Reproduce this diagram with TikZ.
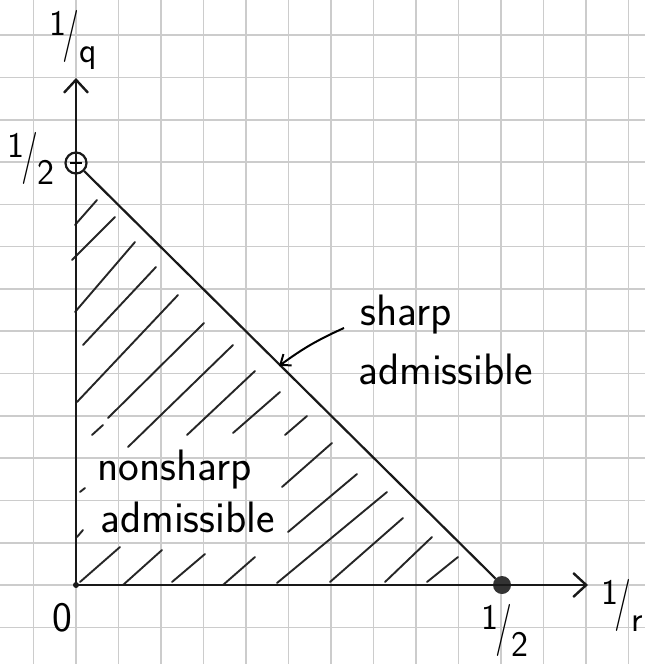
\documentclass[tikz,border=0pt]{standalone}
\usetikzlibrary{arrows.meta}
\newcommand\hfr[2]{\raisebox{0.38em}{#1}\kern-0.1em\scalebox{1}[1.45]{/}\kern-0.02em\raisebox{-0.36em}{#2}}
\begin{document}
\begin{tikzpicture}[x=1pt,y=-1pt,
  gridline/.style={draw=black!20,line width=1.6pt},
  axisline/.style={line width=2.6pt,draw=black!90},
  hatch/.style={line width=1.9pt,draw=black!85,line cap=round},
  lbl/.style={font=\fontsize{44}{48}\selectfont\sffamily,inner sep=0pt},
  frac/.style={font=\fontsize{36}{40}\selectfont\sffamily,inner sep=0pt},
  barb/.style={-{Straight Barb[length=13pt,width=24pt,line width=2.4pt]}},
  smallbarb/.style={-{Straight Barb[length=9pt,width=14pt,line width=2pt]}}
]
\useasboundingbox (0,0) rectangle (645,664);
\fill[white] (0,0) rectangle (645,664);
% graph paper
\foreach \i in {0,...,14} \draw[gridline] ({33.5+42.5*\i},0) -- ++(0,664);
\foreach \j in {-1,...,13} \draw[gridline] (0,{585-42.3*\j}) -- ++(645,0);
% key points
\coordinate (O) at (76,585);
\coordinate (Ytip) at (76,78);
\coordinate (Xtip) at (588,585);
\node[circle,draw=black!90,line width=2.2pt,minimum size=21pt,inner sep=0pt] (Q) at (76,163) {};
\node[circle,fill=black!80,minimum size=18pt,inner sep=0pt] (R) at (502,585) {};
% hatching
\foreach \a/\b/\c/\d in {
  75/225/97/200, 72/260/115/217, 75/312/135/242, 83/345/156/267,
  77/402/178/295, 108/418/204/323, 128/447/233/345, 92/435/103/425,
  187/435/255/371, 233/433/280/392, 285/435/307/416,
  80/492/85/488, 77/537/83/530,
  80/582/120/547, 123/585/162/550, 172/582/205/554, 223/585/255/557,
  277/583/387/492, 282/487/332/443, 288/532/357/474,
  330/582/403/518, 385/582/432/537, 427/582/458/557}
  \draw[hatch] (\a,\b) -- (\c,\d);
% axes
\draw[axisline,barb] (O) -- (Ytip);
\draw[axisline,barb] (O) -- (Xtip);
\fill[black!90] (O) circle[radius=3pt];
% hypotenuse
\draw[line width=2.2pt,draw=black!90] (Q) -- (R);
\draw[line width=2pt] ([xshift=-6pt]Q.center) -- ([xshift=6pt]Q.center);
% labels
\node[frac] (lq) at (73,40) {\hfr{1}{q}};
\node[frac] (lhalfq) at (31,158) {\hfr{1}{2}};
\node[frac] (lhalfr) at (505,630) {\hfr{1}{2}};
\node[frac] (lr) at (622,605) {\hfr{1}{r}};
\node[font=\fontsize{42}{46}\selectfont\sffamily,inner sep=0pt] (zero) at (62,618) {0};
\node[lbl,anchor=base west] (sharp) at (360,325) {sharp};
\node[lbl,anchor=base west] (adm1) at (358,384) {admissible};
\node[lbl,anchor=base west] (nons) at (97,480) {nonsharp};
\node[lbl,anchor=base west] (adm2) at (100,532) {admissible};
% pointer
\coordinate (As) at (344,328);
\coordinate (Ae) at (279,366);
\draw[line width=2pt,smallbarb] (As) to[bend right=6] (Ae);
\end{tikzpicture}
\end{document}
